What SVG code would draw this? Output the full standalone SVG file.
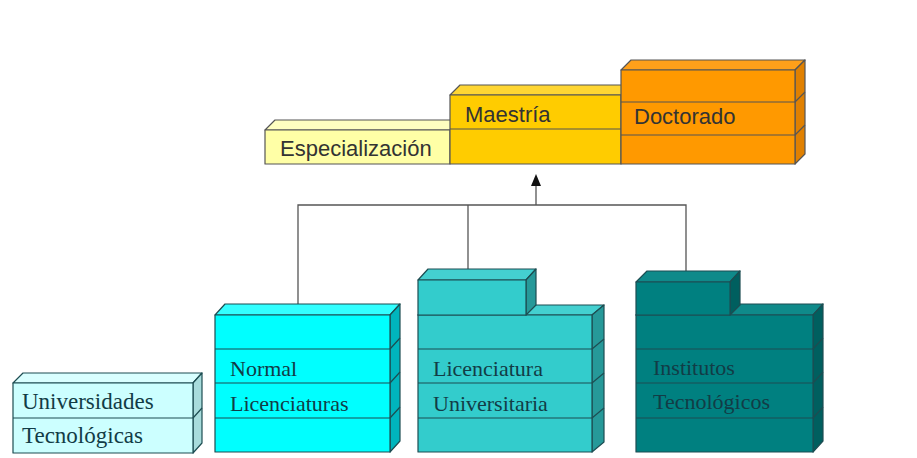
<svg xmlns="http://www.w3.org/2000/svg" width="917" height="458" viewBox="0 0 917 458">
<style>
.sans{font-family:"Liberation Sans",Arial,sans-serif;font-size:22px;fill:#333}
.serif{font-family:"Liberation Serif","Times New Roman",serif;font-size:22px;fill:#123c46}
.st{stroke:#555;stroke-width:1.2;stroke-linejoin:round}
.bt{stroke:#1d4d52;stroke-width:1.2;stroke-linejoin:round}
.ln{fill:none}
.conn{fill:none;stroke:#555;stroke-width:1.3}
</style>
<rect width="917" height="458" fill="#ffffff"/>

<g id="connectors">
<path class="conn" d="M298,305 V205 H686 V271"/>
<path class="conn" d="M468,205 V270"/>
<path class="conn" d="M536,205 V185"/>
<polygon points="536,174 531,186 541,186" fill="#111"/>
</g>

<g id="especializacion">
<polygon class="st" fill="#ffffc0" points="265,130 275,120 460,120 450,130"/>
<rect class="st" fill="#ffffa6" x="265" y="130" width="185" height="34"/>
<text class="sans" x="280" y="156">Especialización</text>
</g>

<g id="maestria">
<polygon class="st" fill="#ffd633" points="450,95 460,85 631,85 621,95"/>
<rect class="st" fill="#ffcc00" x="450" y="95" width="171" height="69"/>
<line class="st ln" x1="450" y1="129" x2="621" y2="129"/>
<text class="sans" x="465" y="122">Maestría</text>
</g>

<g id="doctorado">
<polygon class="st" fill="#ffa01a" points="621,70 631,60 805,60 795,70"/>
<polygon class="st" fill="#e08000" points="795,70 805,60 805,154 795,164"/>
<rect class="st" fill="#ff9900" x="621" y="70" width="174" height="94"/>
<path class="st ln" d="M621,102 H795 L805,92 M621,135 H795 L805,125"/>
<text class="sans" x="634" y="124">Doctorado</text>
</g>

<g id="universidades">
<polygon class="bt" fill="#d9ffff" points="13,383 23,373 202,373 193,383"/>
<polygon class="bt" fill="#a8dcdc" points="193,383 202,373 202,443 193,453"/>
<rect class="bt" fill="#ccffff" x="13" y="383" width="180" height="70"/>
<path class="bt ln" d="M13,418 H193 L202,408"/>
<text class="serif" x="22" y="409" fill="#2a5555" style="font-size:23px">Universidades</text>
<text class="serif" x="22" y="443" fill="#2a5555" style="font-size:23px">Tecnológicas</text>
</g>

<g id="normal">
<polygon class="bt" fill="#33ffff" points="215,315 225,304 400,304 390,315"/>
<polygon class="bt" fill="#00b5bd" points="390,315 400,304 400,441 390,452"/>
<rect class="bt" fill="#00ffff" x="215" y="315" width="175" height="137"/>
<path class="bt ln" d="M215,349 H390 L400,338 M215,383 H390 L400,372 M215,418 H390 L400,407"/>
<text class="serif" x="230" y="376">Normal</text>
<text class="serif" x="230" y="411">Licenciaturas</text>
</g>

<g id="licenciatura">
<polygon class="bt" fill="#44d0d0" points="418,315 428,305 604,305 592,315"/>
<polygon class="bt" fill="#269999" points="592,315 604,305 604,442 592,452"/>
<rect class="bt" fill="#33cccc" x="418" y="315" width="174" height="137"/>
<path class="bt ln" d="M418,349 H592 L604,339 M418,383 H592 L604,373 M418,418 H592 L604,408"/>
<polygon class="bt" fill="#44d0d0" points="418,280 428,269 536,269 526,280"/>
<polygon class="bt" fill="#269999" points="526,280 536,269 536,305 526,315"/>
<rect class="bt" fill="#33cccc" x="418" y="280" width="108" height="35"/>
<text class="serif" x="433" y="376">Licenciatura</text>
<text class="serif" x="433" y="411">Universitaria</text>
</g>

<g id="institutos">
<polygon class="bt" fill="#0f8a8a" points="636,315 646,304 823,304 813,315"/>
<polygon class="bt" fill="#005f5f" points="813,315 823,304 823,441 813,452"/>
<rect class="bt" fill="#008080" x="636" y="315" width="177" height="137"/>
<path class="bt ln" d="M636,349 H813 L823,338 M636,383 H813 L823,372 M636,418 H813 L823,407"/>
<polygon class="bt" fill="#0f8a8a" points="636,282 647,271 740,271 730,282"/>
<polygon class="bt" fill="#005f5f" points="730,282 740,271 740,305 730,315"/>
<rect class="bt" fill="#008080" x="636" y="282" width="94" height="33"/>
<text class="serif" x="653" y="375" fill="#0a3535">Institutos</text>
<text class="serif" x="653" y="409" fill="#0a3535">Tecnológicos</text>
</g>
</svg>
